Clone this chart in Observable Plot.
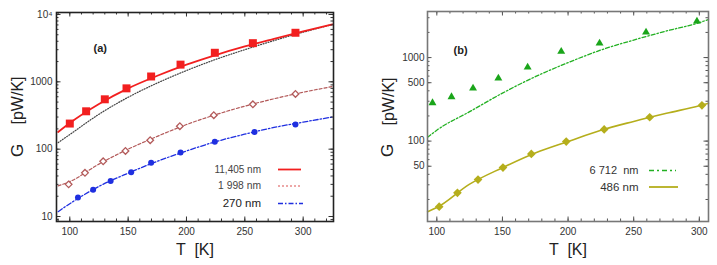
<!DOCTYPE html>
<html><head><meta charset="utf-8">
<script src="https://cdn.jsdelivr.net/npm/d3@7"></script>
<script src="https://cdn.jsdelivr.net/npm/@observablehq/plot@0.6"></script>
<style>
body{margin:0;background:#fff;}
#wrap{position:relative;width:717px;height:265px;overflow:hidden;background:#fff;}
#wrap svg{position:absolute;top:0;}
</style></head><body><div id="wrap"></div>
<script>
// ---------- Panel (a) data ----------
const a_sqT = [100,114,130,148.6,169.7,194.9,224.3,256.9,293.4];
const a_sqG = [240,365,550,800,1200,1800,2700,3750,5350];
const a_diT = [99,113,128.6,147.7,168.9,194.3,223.4,256.9,293.4];
const a_diG = [30,44.5,66,94,136,219,319,464,660];
const a_ciT = [107,120,135,152.6,169.7,194.9,224.3,258.3,293.4];
const a_ciG = [19.2,25,33.6,45.6,62.6,89,128.6,180,232];
const a_lineT = [90,100,125,150,175,200,225,250,275,300,325];
const a_red   = [180,245,470,800,1230,1800,2500,3350,4350,5600,7100];
const a_black = [125,165,330,590,960,1470,2150,3000,4100,5450,7100];
const a_brown = [28.5,33,60,100,155,232,325,435,560,700,850];
const a_blue  = [11.8,15.5,28,44,66,94,129,167,210,252,300];
const a_xTicks = [100,150,200,250,300];
const a_yTicks = [10,100,1000,10000];
const a_yLabels = ["10","100","1000","10⁴"];
const a_legend = ["11,405 nm","1 998 nm","270 nm"];

// ---------- Panel (b) data ----------
const b_triT = [96.7,111.2,127.6,146.9,169.2,194.8,224,259.4,298.2];
const b_triG = [287,338,429,565,766,1180,1484,2010,2720];
const b_diT = [101.8,115.7,131.4,150.4,172,198.6,227.5,262.2,302];
const b_diG = [16.4,24,34.6,48.2,70.3,98.6,138,193,268];
const b_lineT = [93,100,125,150,175,200,225,250,275,300,307];
const b_green = [111,135,225,375,590,870,1230,1620,2080,2620,2850];
const b_olive = [14.3,16,30.5,48,72,99,135,172,215,265,284];
const b_xTicks = [100,150,200,250,300];
const b_yTicks = [50,100,500,1000];
const b_yLabels = ["50","100","500","1000"];
const b_legend = ["6 712  nm","486 nm"];

const font = '"Liberation Sans", Arial, Helvetica, sans-serif';
const pts = (T, G) => T.map((t, i) => ({t, g: G[i]}));

function logMinor(lo, hi) {
  const out = [];
  for (let e = Math.floor(Math.log10(lo)); e <= Math.ceil(Math.log10(hi)); e++)
    for (let m = 1; m <= 9; m++) { const v = m * 10 ** e; if (v >= lo && v <= hi) out.push(v); }
  return out;
}
function linMinor(lo, hi, step) {
  const out = [];
  for (let v = Math.ceil(lo / step) * step; v <= hi; v += step) out.push(v);
  return out;
}

function frameTicks(xd, yd, xMajor, yMajor, innerW, innerH, color) {
  const xm = linMinor(xd[0], xd[1], 10), ym = logMinor(yd[0], yd[1]);
  return [
    Plot.tickX(xm, {x: d => d, insetTop: innerH - 2.5, stroke: color}),
    Plot.tickX(xm, {x: d => d, insetBottom: innerH - 2.5, stroke: color}),
    Plot.tickX(xMajor, {x: d => d, insetTop: innerH - 4.5, stroke: color}),
    Plot.tickX(xMajor, {x: d => d, insetBottom: innerH - 4.5, stroke: color}),
    Plot.tickY(ym, {y: d => d, insetRight: innerW - 2.5, stroke: color}),
    Plot.tickY(ym, {y: d => d, insetLeft: innerW - 2.5, stroke: color}),
    Plot.tickY(yMajor, {y: d => d, insetRight: innerW - 4.5, stroke: color}),
    Plot.tickY(yMajor, {y: d => d, insetLeft: innerW - 4.5, stroke: color})
  ];
}

// ---------- Plot (a) ----------
const A = {w: 360, h: 265, mt: 12, mb: 44, ml: 56, mr: 27};
const AiW = A.w - A.ml - A.mr, AiH = A.h - A.mt - A.mb;
const axd = [88.6, 326], ayd = [8.43, 10700];
const plotA = Plot.plot({
  width: A.w, height: A.h, marginTop: A.mt, marginBottom: A.mb, marginLeft: A.ml, marginRight: A.mr,
  style: {fontFamily: font, fontSize: "10px", color: "#333", background: "transparent", overflow: "visible"},
  x: {domain: axd},
  y: {type: "log", domain: ayd, axis: null},
  marks: [
    Plot.line(pts(a_lineT, a_black), {x: "t", y: "g", stroke: "#444", strokeWidth: 1.2, strokeDasharray: "1,1.6", curve: "monotone-x"}),
    Plot.line(pts(a_lineT, a_red), {x: "t", y: "g", stroke: "#f21f1f", strokeWidth: 1.8, curve: "monotone-x"}),
    Plot.line(pts(a_lineT, a_brown), {x: "t", y: "g", stroke: "#b35a5a", strokeWidth: 1.2, strokeDasharray: "3,2", curve: "monotone-x"}),
    Plot.line(pts(a_lineT, a_blue), {x: "t", y: "g", stroke: "#1f2fe0", strokeWidth: 1.3, strokeDasharray: "5,2,1.5,2", curve: "monotone-x"}),
    Plot.dot(pts(a_sqT, a_sqG), {x: "t", y: "g", symbol: "square", r: 4.5, fill: "#f21f1f"}),
    Plot.dot(pts(a_diT, a_diG), {x: "t", y: "g", symbol: "diamond2", r: 3, fill: "#fff", stroke: "#b35a5a", strokeWidth: 1.3}),
    Plot.dot(pts(a_ciT, a_ciG), {x: "t", y: "g", symbol: "circle", r: 3, fill: "#1f2fe0"}),
    ...frameTicks(axd, ayd, a_xTicks, a_yTicks, AiW, AiH, "#333"),
    Plot.axisX(a_xTicks, {anchor: "bottom", tickSize: 0, tickPadding: 6, label: null, fontSize: 10}),
    Plot.text(a_yTicks, {y: d => d, frameAnchor: "left", dx: -4, textAnchor: "end", fontSize: 10, fill: "#333",
      text: d => a_yLabels[a_yTicks.indexOf(d)]}),
    Plot.frame({stroke: "#222", strokeWidth: 1.6}),
    Plot.text(["(a)"], {frameAnchor: "top-left", dx: 37, dy: 32, fontWeight: "bold", fontSize: 11, fill: "#222"}),
    Plot.text(["G"], {frameAnchor: "left", dx: -39, dy: 33.5, rotate: -90, fontSize: 17, lineAnchor: "middle", textAnchor: "middle", fill: "#222"}),
    Plot.text(["[pW/K]"], {frameAnchor: "left", dx: -39, dy: -16.5, rotate: -90, fontSize: 16, lineAnchor: "middle", textAnchor: "middle", fill: "#222"}),
    Plot.text(["T  [K]"], {frameAnchor: "bottom", dy: 28, fontSize: 16, lineAnchor: "middle", fill: "#222"})
  ]
});
plotA.style.left = "0px";

// ---------- Plot (b) ----------
const B = {w: 357, h: 265, mt: 11, mb: 44, ml: 67, mr: 9};
const BiW = B.w - B.ml - B.mr, BiH = B.h - B.mt - B.mb;
const bxd = [92.9, 307], byd = [10.9, 3560];
const plotB = Plot.plot({
  width: B.w, height: B.h, marginTop: B.mt, marginBottom: B.mb, marginLeft: B.ml, marginRight: B.mr,
  style: {fontFamily: font, fontSize: "10px", color: "#333", background: "transparent", overflow: "visible"},
  x: {domain: bxd},
  y: {type: "log", domain: byd, axis: null},
  marks: [
    Plot.line(pts(b_lineT, b_green), {x: "t", y: "g", stroke: "#22b022", strokeWidth: 1.3, strokeDasharray: "4,2,1.5,2", curve: "monotone-x"}),
    Plot.line(pts(b_lineT, b_olive), {x: "t", y: "g", stroke: "#b5ae1c", strokeWidth: 1.6, curve: "monotone-x"}),
    Plot.dot(pts(b_triT, b_triG), {x: "t", y: "g", symbol: "triangle2", r: 3.8, fill: "#1aa51a"}),
    Plot.dot(pts(b_diT, b_diG), {x: "t", y: "g", symbol: "diamond2", r: 3.9, fill: "#b5ae1c"}),
    ...frameTicks(bxd, byd, b_xTicks, b_yTicks, BiW, BiH, "#555"),
    Plot.axisX(b_xTicks, {anchor: "bottom", tickSize: 0, tickPadding: 6, label: null, fontSize: 10}),
    Plot.text(b_yTicks, {y: d => d, frameAnchor: "left", dx: -3, textAnchor: "end", fontSize: 10, fill: "#333",
      text: d => b_yLabels[b_yTicks.indexOf(d)]}),
    Plot.frame({stroke: "#777", strokeWidth: 1.6}),
    Plot.text(["(b)"], {frameAnchor: "top-left", dx: 26, dy: 35, fontWeight: "bold", fontSize: 11, fill: "#222"}),
    Plot.text(["G"], {frameAnchor: "left", dx: -39.5, dy: 34, rotate: -90, fontSize: 17, lineAnchor: "middle", textAnchor: "middle", fill: "#222"}),
    Plot.text(["[pW/K]"], {frameAnchor: "left", dx: -39, dy: -15, rotate: -90, fontSize: 16, lineAnchor: "middle", textAnchor: "middle", fill: "#222"}),
    Plot.text(["T  [K]"], {frameAnchor: "bottom", dy: 28, fontSize: 16, lineAnchor: "middle", fill: "#222"})
  ]
});
plotB.style.left = "360px";

const wrap = document.getElementById("wrap");
wrap.appendChild(plotA);
wrap.appendChild(plotB);

// ---------- Legends (overlay) ----------
const ov = d3.select(wrap).append("svg").attr("width", 717).attr("height", 265)
  .style("left", "0px").style("pointer-events", "none").style("font-family", font);
const legItems = [
  {label: a_legend[0], x: 261, y: 169, size: 10, col: "#444", x1: 278, x2: 301, stroke: "#f21f1f", w: 1.8, dash: null},
  {label: a_legend[1], x: 261, y: 185.5, size: 10.3, col: "#444", x1: 278, x2: 301, stroke: "#e88a8a", w: 1.3, dash: "2,2"},
  {label: a_legend[2], x: 261, y: 203, size: 11.5, col: "#222", x1: 278, x2: 303, stroke: "#1f2fe0", w: 1.4, dash: "5,2,1.5,2"},
  {label: b_legend[0], x: 638.5, y: 170, size: 11, col: "#333", x1: 649, x2: 676, stroke: "#22b022", w: 1.4, dash: "5,3,2,3"},
  {label: b_legend[1], x: 638.5, y: 186.5, size: 11.5, col: "#333", x1: 649, x2: 678, stroke: "#b5ae1c", w: 1.8, dash: null}
];
for (const it of legItems) {
  ov.append("text").attr("x", it.x).attr("y", it.y).attr("dy", "0.35em")
    .attr("text-anchor", "end").attr("font-size", it.size).attr("fill", it.col)
    .attr("xml:space", "preserve").style("white-space", "pre").text(it.label);
  const ln = ov.append("line").attr("x1", it.x1).attr("x2", it.x2).attr("y1", it.y + 0.5).attr("y2", it.y + 0.5)
    .attr("stroke", it.stroke).attr("stroke-width", it.w);
  if (it.dash) ln.attr("stroke-dasharray", it.dash);
}
</script></body></html>
